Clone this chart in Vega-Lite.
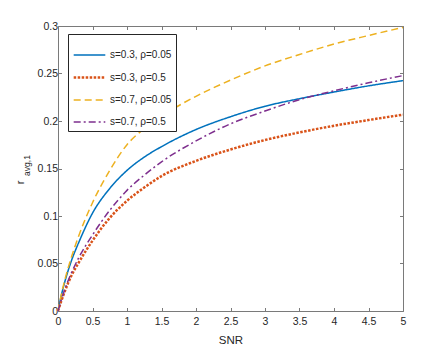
{
  "$schema": "https://vega.github.io/schema/vega-lite/v6.json",
  "width": 345,
  "height": 285,
  "autosize": {"type": "none"},
  "padding": {"left": 58, "top": 26, "right": 42, "bottom": 38},
  "background": "white",
  "config": {
    "view": {"stroke": null},
    "font": "Liberation Sans",
    "axis": {
      "grid": false,
      "domainColor": "#7a7a7a",
      "domainWidth": 1,
      "tickColor": "#7a7a7a",
      "tickWidth": 1,
      "tickSize": -3.5,
      "labelColor": "#262626",
      "labelFontSize": 10.5,
      "titleColor": "#262626",
      "titleFontWeight": "normal"
    }
  },
  "data": {
    "values": [
      {"x": 0, "y": 0, "s": "s=0.3, ρ=0.05"},
      {"x": 0.05, "y": 0.017, "s": "s=0.3, ρ=0.05"},
      {"x": 0.1, "y": 0.031, "s": "s=0.3, ρ=0.05"},
      {"x": 0.2, "y": 0.054, "s": "s=0.3, ρ=0.05"},
      {"x": 0.3, "y": 0.072, "s": "s=0.3, ρ=0.05"},
      {"x": 0.5, "y": 0.103, "s": "s=0.3, ρ=0.05"},
      {"x": 0.75, "y": 0.129, "s": "s=0.3, ρ=0.05"},
      {"x": 1, "y": 0.148, "s": "s=0.3, ρ=0.05"},
      {"x": 1.25, "y": 0.162, "s": "s=0.3, ρ=0.05"},
      {"x": 1.5, "y": 0.173, "s": "s=0.3, ρ=0.05"},
      {"x": 2, "y": 0.191, "s": "s=0.3, ρ=0.05"},
      {"x": 2.5, "y": 0.2045, "s": "s=0.3, ρ=0.05"},
      {"x": 3, "y": 0.2155, "s": "s=0.3, ρ=0.05"},
      {"x": 3.5, "y": 0.2235, "s": "s=0.3, ρ=0.05"},
      {"x": 4, "y": 0.2305, "s": "s=0.3, ρ=0.05"},
      {"x": 4.5, "y": 0.237, "s": "s=0.3, ρ=0.05"},
      {"x": 5, "y": 0.2425, "s": "s=0.3, ρ=0.05"},

      {"x": 0, "y": 0, "s": "s=0.3, ρ=0.5"},
      {"x": 0.05, "y": 0.011, "s": "s=0.3, ρ=0.5"},
      {"x": 0.1, "y": 0.021, "s": "s=0.3, ρ=0.5"},
      {"x": 0.2, "y": 0.038, "s": "s=0.3, ρ=0.5"},
      {"x": 0.3, "y": 0.051, "s": "s=0.3, ρ=0.5"},
      {"x": 0.5, "y": 0.074, "s": "s=0.3, ρ=0.5"},
      {"x": 0.75, "y": 0.098, "s": "s=0.3, ρ=0.5"},
      {"x": 1, "y": 0.116, "s": "s=0.3, ρ=0.5"},
      {"x": 1.25, "y": 0.13, "s": "s=0.3, ρ=0.5"},
      {"x": 1.5, "y": 0.142, "s": "s=0.3, ρ=0.5"},
      {"x": 2, "y": 0.158, "s": "s=0.3, ρ=0.5"},
      {"x": 2.5, "y": 0.17, "s": "s=0.3, ρ=0.5"},
      {"x": 3, "y": 0.18, "s": "s=0.3, ρ=0.5"},
      {"x": 3.5, "y": 0.188, "s": "s=0.3, ρ=0.5"},
      {"x": 4, "y": 0.195, "s": "s=0.3, ρ=0.5"},
      {"x": 4.5, "y": 0.201, "s": "s=0.3, ρ=0.5"},
      {"x": 5, "y": 0.2067, "s": "s=0.3, ρ=0.5"},

      {"x": 0, "y": 0, "s": "s=0.7, ρ=0.05"},
      {"x": 0.05, "y": 0.018, "s": "s=0.7, ρ=0.05"},
      {"x": 0.1, "y": 0.033, "s": "s=0.7, ρ=0.05"},
      {"x": 0.2, "y": 0.058, "s": "s=0.7, ρ=0.05"},
      {"x": 0.3, "y": 0.079, "s": "s=0.7, ρ=0.05"},
      {"x": 0.5, "y": 0.114, "s": "s=0.7, ρ=0.05"},
      {"x": 0.75, "y": 0.148, "s": "s=0.7, ρ=0.05"},
      {"x": 1, "y": 0.175, "s": "s=0.7, ρ=0.05"},
      {"x": 1.25, "y": 0.192, "s": "s=0.7, ρ=0.05"},
      {"x": 1.5, "y": 0.205, "s": "s=0.7, ρ=0.05"},
      {"x": 2, "y": 0.226, "s": "s=0.7, ρ=0.05"},
      {"x": 2.5, "y": 0.243, "s": "s=0.7, ρ=0.05"},
      {"x": 3, "y": 0.258, "s": "s=0.7, ρ=0.05"},
      {"x": 3.5, "y": 0.27, "s": "s=0.7, ρ=0.05"},
      {"x": 4, "y": 0.281, "s": "s=0.7, ρ=0.05"},
      {"x": 4.5, "y": 0.29, "s": "s=0.7, ρ=0.05"},
      {"x": 5, "y": 0.2985, "s": "s=0.7, ρ=0.05"},

      {"x": 0, "y": 0, "s": "s=0.7, ρ=0.5"},
      {"x": 0.05, "y": 0.012, "s": "s=0.7, ρ=0.5"},
      {"x": 0.1, "y": 0.023, "s": "s=0.7, ρ=0.5"},
      {"x": 0.2, "y": 0.041, "s": "s=0.7, ρ=0.5"},
      {"x": 0.3, "y": 0.056, "s": "s=0.7, ρ=0.5"},
      {"x": 0.5, "y": 0.08, "s": "s=0.7, ρ=0.5"},
      {"x": 0.75, "y": 0.106, "s": "s=0.7, ρ=0.5"},
      {"x": 1, "y": 0.127, "s": "s=0.7, ρ=0.5"},
      {"x": 1.25, "y": 0.143, "s": "s=0.7, ρ=0.5"},
      {"x": 1.5, "y": 0.157, "s": "s=0.7, ρ=0.5"},
      {"x": 2, "y": 0.179, "s": "s=0.7, ρ=0.5"},
      {"x": 2.5, "y": 0.197, "s": "s=0.7, ρ=0.5"},
      {"x": 3, "y": 0.2105, "s": "s=0.7, ρ=0.5"},
      {"x": 3.5, "y": 0.2225, "s": "s=0.7, ρ=0.5"},
      {"x": 4, "y": 0.2318, "s": "s=0.7, ρ=0.5"},
      {"x": 4.5, "y": 0.2402, "s": "s=0.7, ρ=0.5"},
      {"x": 5, "y": 0.2478, "s": "s=0.7, ρ=0.5"}
    ]
  },
  "resolve": {"axis": {"x": "independent", "y": "independent"}},
  "layer": [
    {
      "mark": {"type": "line", "interpolate": "monotone", "strokeCap": "butt"},
      "encoding": {
        "x": {"field": "x", "type": "quantitative", "scale": {"domain": [0, 5], "nice": false, "zero": false},
          "axis": {"orient": "bottom", "values": [0, 0.5, 1, 1.5, 2, 2.5, 3, 3.5, 4, 4.5, 5], "format": "~g", "title": "SNR", "titleFontSize": 11.5, "labelPadding": 9, "titlePadding": 7, "labelFlush": false}},
        "y": {"field": "y", "type": "quantitative", "scale": {"domain": [0, 0.3], "nice": false, "zero": false},
          "axis": {"orient": "left", "values": [0, 0.05, 0.1, 0.15, 0.2, 0.25, 0.3], "format": "~g", "title": "r", "titleFontSize": 11, "titleAngle": -90, "titleAlign": "center", "titleBaseline": "middle", "titleX": -38, "titleY": 156, "labelPadding": 4, "labelFlush": false}},
        "color": {"field": "s", "type": "nominal",
          "scale": {"domain": ["s=0.3, ρ=0.05", "s=0.3, ρ=0.5", "s=0.7, ρ=0.05", "s=0.7, ρ=0.5"], "range": ["#0072BD", "#D95319", "#EDB120", "#7E2F8E"]},
          "legend": {"orient": "none", "legendX": 10, "legendY": 8, "title": null, "symbolType": "stroke", "symbolSize": 1000, "labelFontSize": 10, "labelColor": "#262626", "strokeColor": "#262626", "fillColor": "white", "padding": 4, "rowPadding": 0, "labelOffset": 3, "cornerRadius": 0}},
        "strokeDash": {"field": "s", "type": "nominal",
          "scale": {"domain": ["s=0.3, ρ=0.05", "s=0.3, ρ=0.5", "s=0.7, ρ=0.05", "s=0.7, ρ=0.5"], "range": [[1, 0], [2.5, 1.5], [7, 4], [7, 3, 2, 3]]}},
        "strokeWidth": {"field": "s", "type": "nominal",
          "scale": {"type": "ordinal", "domain": ["s=0.3, ρ=0.05", "s=0.3, ρ=0.5", "s=0.7, ρ=0.05", "s=0.7, ρ=0.5"], "range": [1.5, 2.5, 1.5, 1.5]}}
      }
    },
    {
      "mark": {"type": "line", "opacity": 0},
      "encoding": {
        "x": {"field": "x", "type": "quantitative",
          "axis": {"orient": "top", "values": [0, 0.5, 1, 1.5, 2, 2.5, 3, 3.5, 4, 4.5, 5], "labels": false, "title": null}},
        "y": {"field": "y", "type": "quantitative",
          "axis": {"orient": "right", "values": [0, 0.05, 0.1, 0.15, 0.2, 0.25, 0.3], "labels": false, "title": null}},
        "detail": {"field": "s", "type": "nominal"}
      }
    },
    {
      "mark": {"type": "line", "opacity": 0},
      "encoding": {
        "x": {"field": "x", "type": "quantitative", "axis": null},
        "y": {"field": "y", "type": "quantitative",
          "axis": {"orient": "left", "labels": false, "ticks": false, "domain": false, "title": "avg,1", "titleFontSize": 8.5, "titleAngle": -90, "titleAlign": "center", "titleBaseline": "middle", "titleX": -32, "titleY": 139}},
        "detail": {"field": "s", "type": "nominal"}
      }
    }
  ]
}
